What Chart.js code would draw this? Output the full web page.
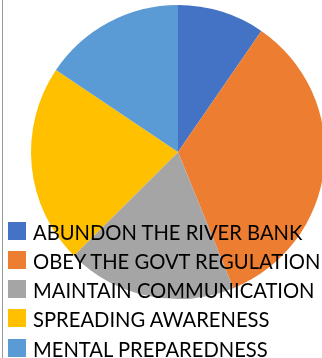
<!DOCTYPE html>
<html>
<head>
<meta charset="utf-8">
<script src="https://cdn.jsdelivr.net/npm/chart.js@4/dist/chart.umd.min.js"></script>
<style>
  html, body { margin: 0; padding: 0; background: #fff; overflow: hidden; }
  body { width: 322px; height: 358px; position: relative; }
  #frame { position: absolute; left: 2px; top: 0; width: 1px; height: 358px; background: #9a9a9a; }
  #wrap { position: absolute; left: 0; top: 0; width: 340px; height: 358px; }
  #legend { position: absolute; left: 8px; top: 216.5px; margin: 0; padding: 0; list-style: none;
            font-family: Lato, "Open Sans", sans-serif; font-size: 20.2px; color: #000; white-space: nowrap; }
  #legend li { height: 29.15px; display: flex; align-items: center; }
  #legend .box { width: 18px; height: 18px; margin-right: 7px; flex: none; }
  #legend .txt { position: relative; top: 1px; }
</style>
</head>
<body>
<div id="wrap"><canvas id="c"></canvas></div>
<div id="frame"></div>
<ul id="legend"></ul>
<script>
// Responses, in percent of respondents
const categories = [
  "ABUNDON THE RIVER BANK",
  "OBEY THE GOVT REGULATION",
  "MAINTAIN COMMUNICATION",
  "SPREADING AWARENESS",
  "MENTAL PREPAREDNESS"
];
const shares = [9.6, 34.3, 18.7, 21.9, 15.6];
const sliceColors = ["#4472C4", "#ED7D31", "#A5A5A5", "#FFC000", "#5B9BD5"];

const chart = new Chart(document.getElementById("c"), {
  type: "pie",
  data: {
    labels: categories,
    datasets: [{
      data: shares,
      backgroundColor: sliceColors,
      borderWidth: 0
    }]
  },
  options: {
    responsive: true,
    maintainAspectRatio: false,
    animation: false,
    layout: { padding: { left: 31, right: 15, top: 5, bottom: 59 } },
    plugins: {
      legend: { display: false },
      tooltip: { enabled: false }
    }
  }
});

// Legend list built from the chart's own labels and colours
const legend = document.getElementById("legend");
chart.data.labels.forEach((label, i) => {
  const li = document.createElement("li");
  const box = document.createElement("span");
  box.className = "box";
  box.style.background = chart.data.datasets[0].backgroundColor[i];
  const txt = document.createElement("span");
  txt.className = "txt";
  txt.textContent = label;
  li.appendChild(box);
  li.appendChild(txt);
  legend.appendChild(li);
});
</script>
</body>
</html>
